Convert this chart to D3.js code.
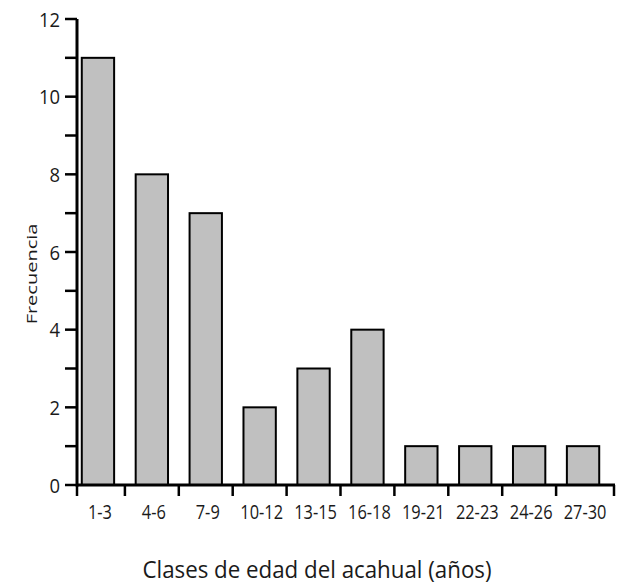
<!DOCTYPE html>
<html><head><meta charset="utf-8">
<script src="https://cdn.jsdelivr.net/npm/d3@7"></script>
<style>body{margin:0;background:#fff}text{font-family:"Open Sans",sans-serif;fill:#1a1a1a}</style>
</head><body><svg id="c" width="630" height="584"></svg>
<script>
const categories = ["1-3","4-6","7-9","10-12","13-15","16-18","19-21","22-23","24-26","27-30"];
const frecuencia = [11,8,7,2,3,4,1,1,1,1];
const yTicks = [0,1,2,3,4,5,6,7,8,9,10,11,12];
const yLabels = [0,2,4,6,8,10,12];

const svg = d3.select("#c");
const x0 = 77, xEnd = 615, yBottom = 485, yTop = 19;
const x = d3.scaleBand().domain(categories).range([71, 610]).paddingInner(0.4).paddingOuter(0.2);
const y = d3.scaleLinear().domain([0,12]).range([yBottom, yTop]);

// bars
svg.append("g").selectAll("rect").data(categories).join("rect")
  .attr("x", d => x(d)).attr("width", x.bandwidth())
  .attr("y", (d,i) => y(frecuencia[i])).attr("height", (d,i) => y(0) - y(frecuencia[i]))
  .attr("fill", "#c0c0c0").attr("stroke", "#000").attr("stroke-width", 2);

// y axis
const gy = svg.append("g");
gy.append("line").attr("x1", x0).attr("x2", x0).attr("y1", yTop).attr("y2", yBottom + 1.5)
  .attr("stroke", "#000").attr("stroke-width", 3);
gy.selectAll(".t").data(yTicks).join("line")
  .attr("x1", x0 - 12).attr("x2", x0).attr("y1", d => y(d)).attr("y2", d => y(d))
  .attr("stroke", "#000").attr("stroke-width", 2.5);
gy.selectAll("text").data(yLabels).join("text")
  .attr("transform", d => `translate(${x0 - 17},${y(d) + 7.5}) scale(0.9,1)`)
  .attr("text-anchor", "end").attr("font-size", 20.5).text(d => d);

// x axis
const gx = svg.append("g");
gx.append("line").attr("x1", x0).attr("x2", xEnd).attr("y1", yBottom).attr("y2", yBottom)
  .attr("stroke", "#000").attr("stroke-width", 3);
const tickX = d => x(d) + x.bandwidth() + (x.step() - x.bandwidth())/2;
gx.selectAll(".tk").data(categories).join("line")
  .attr("x1", (d,i) => i === categories.length - 1 ? xEnd - 1 : tickX(d))
  .attr("x2", (d,i) => i === categories.length - 1 ? xEnd - 1 : tickX(d))
  .attr("y1", yBottom).attr("y2", yBottom + 11)
  .attr("stroke", "#000").attr("stroke-width", 2.5);
gx.append("line").attr("x1", x0).attr("x2", x0).attr("y1", yBottom).attr("y2", yBottom + 11)
  .attr("stroke", "#000").attr("stroke-width", 2.5);
gx.selectAll("text").data(categories).join("text")
  .attr("transform", d => `translate(${x(d) + x.bandwidth()/2 + 2},519) scale(0.8,1)`)
  .attr("text-anchor", "middle").attr("font-size", 20.5).text(d => d);

// titles
svg.append("text").attr("transform", "translate(317,578) scale(0.93,1)").attr("text-anchor", "middle")
  .attr("font-size", 24).text("Clases de edad del acahual (años)");
svg.append("text").attr("transform", "translate(37,274) rotate(-90) scale(1,0.72)").attr("text-anchor", "middle")
  .attr("font-family", "'Liberation Sans',Arial,sans-serif")
  .attr("font-size", 20).text("Frecuencia");
</script></body></html>
